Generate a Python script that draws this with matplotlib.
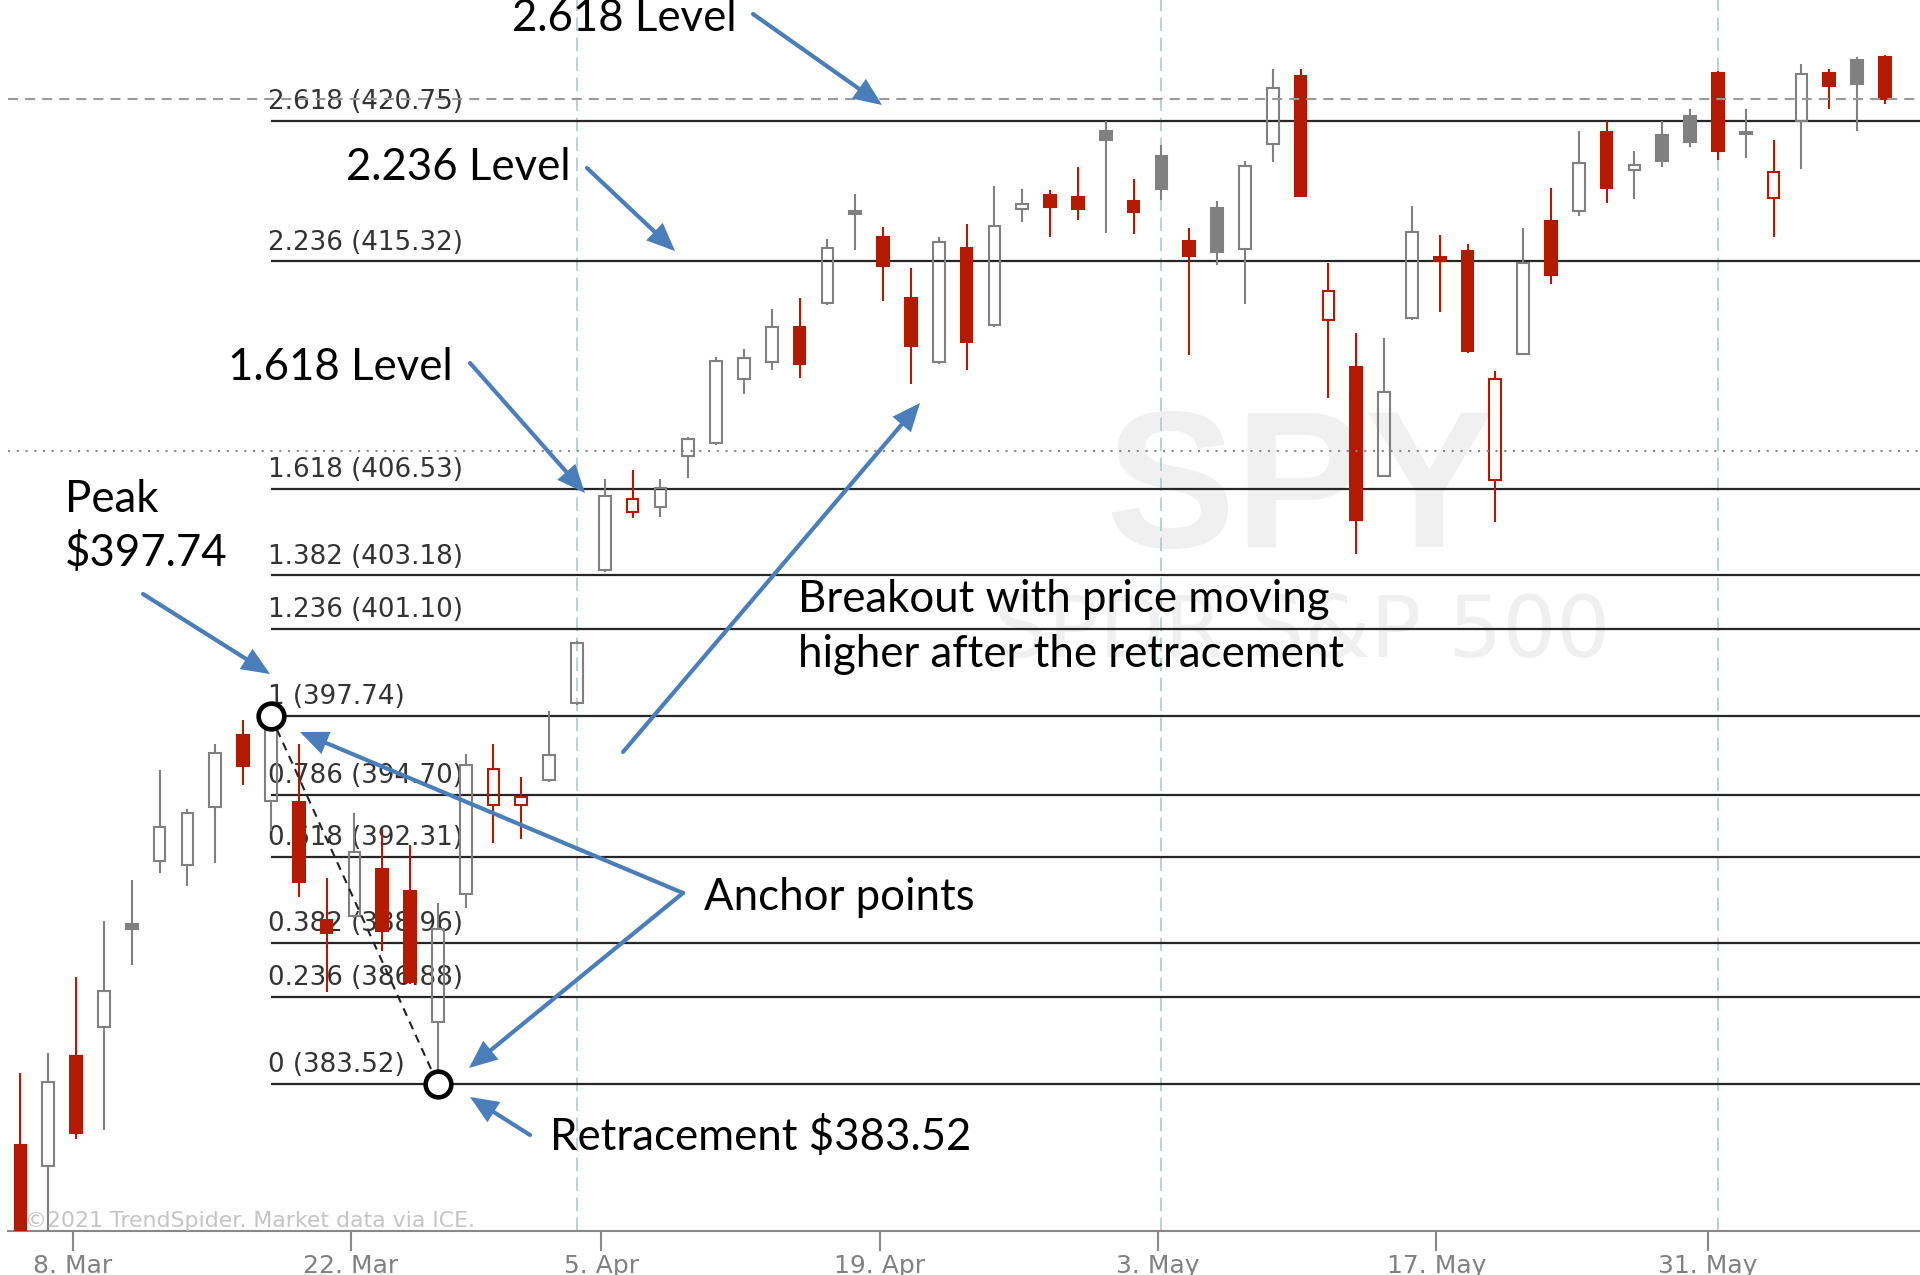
import numpy as np
import pandas as pd
import matplotlib
matplotlib.use('Agg')
import matplotlib.pyplot as plt
from matplotlib.patches import FancyArrowPatch

# SPY daily candles, 4 Mar - 9 Jun 2021
dates = pd.bdate_range('2021-03-04', '2021-06-09')
dates = dates.drop(pd.to_datetime(['2021-04-02', '2021-05-31']))  # market holidays

opens = [381.16, 380.35, 384.61, 385.74, 389.70, 392.16, 391.98, 394.21, 397.03, 394.47,
         394.44, 389.85, 390.01, 391.85, 390.98, 385.90, 390.87, 394.32, 394.32, 395.26,
         398.26, 403.39, 405.64, 405.81, 407.81, 408.29, 410.76, 411.44, 412.80, 413.70,
         417.25, 416.26, 413.92, 411.44, 415.82, 412.84, 417.34, 417.88, 417.81, 420.34,
         417.67, 419.38, 416.11, 417.37, 415.80, 419.87, 422.50, 413.04, 411.23, 407.04,
         413.11, 415.49, 415.72, 406.85, 411.73, 416.86, 417.25, 420.33, 418.83, 420.19,
         420.93, 422.58, 420.26, 417.77, 420.73, 422.58, 423.10, 423.20]
highs = [383.94, 384.72, 387.66, 389.82, 391.39, 395.64, 394.17, 396.67, 397.60, 397.74,
         396.67, 391.48, 393.98, 393.36, 392.75, 390.52, 396.29, 396.67, 395.37, 397.95,
         400.66, 406.89, 407.25, 406.89, 408.54, 411.64, 411.92, 413.47, 413.92, 416.17,
         417.92, 416.63, 415.05, 416.25, 416.77, 418.25, 418.13, 418.09, 418.96, 420.73,
         418.52, 419.82, 416.61, 417.64, 419.19, 422.74, 422.74, 415.25, 412.53, 412.36,
         417.45, 416.35, 416.00, 411.07, 416.61, 418.17, 420.34, 420.73, 419.57, 420.73,
         421.19, 422.66, 421.19, 420.00, 422.93, 422.74, 423.23, 423.31]
lows = [371.90, 372.64, 381.38, 381.74, 388.12, 391.67, 391.17, 392.05, 395.06, 393.29,
        390.75, 387.08, 389.95, 388.66, 387.40, 383.52, 390.31, 392.82, 392.98, 395.20,
        398.17, 403.30, 405.39, 405.45, 406.93, 408.22, 410.21, 411.10, 410.81, 413.65,
        415.76, 413.77, 410.59, 411.35, 411.10, 412.80, 416.83, 416.27, 416.90, 416.43,
        416.36, 417.69, 411.70, 415.17, 413.67, 419.14, 417.80, 410.04, 404.00, 407.00,
        413.05, 413.35, 411.78, 405.26, 411.70, 414.45, 417.06, 417.56, 417.72, 418.96,
        419.74, 419.24, 419.30, 416.27, 418.88, 421.19, 420.34, 421.40]
closes = [376.70, 383.58, 381.63, 387.12, 389.50, 393.44, 393.98, 396.32, 395.83, 397.21,
          391.33, 389.36, 392.47, 389.43, 387.48, 389.51, 395.86, 395.70, 394.63, 396.22,
          400.55, 406.26, 406.12, 406.55, 408.44, 411.48, 411.57, 412.77, 411.34, 415.82,
          417.15, 415.15, 412.03, 416.06, 412.19, 416.67, 417.54, 417.41, 417.33, 420.01,
          417.23, 418.12, 415.52, 415.67, 419.00, 422.03, 417.85, 414.17, 405.32, 410.25,
          416.47, 415.33, 411.85, 410.78, 415.25, 414.81, 419.11, 418.17, 419.04, 419.19,
          419.93, 419.60, 420.33, 418.76, 422.55, 422.08, 422.16, 421.59]

# fibonacci extension drawn from the 17 Mar peak to the 25 Mar low
peak_i, trough_i = 9, 15
fib_ratios = ['2.618', '2.236', '1.618', '1.382', '1.236', '1', '0.786', '0.618', '0.382', '0.236', '0']
fib_prices = [420.75, 415.32, 406.53, 403.18, 401.10, 397.74, 394.70, 392.31, 388.96, 386.88, 383.52]
dotted_level = 408.0

tick_dates = ['2021-03-08', '2021-03-22', '2021-04-05', '2021-04-19', '2021-05-03', '2021-05-17', '2021-05-31']
tick_labels = ['8. Mar', '22. Mar', '5. Apr', '19. Apr', '3. May', '17. May', '31. May']

RED = '#b31b00'
GRAY = '#808080'
BLUE = '#4a7ebb'

W, H = 1920, 1275
fig = plt.figure(figsize=(W / 100, H / 100), dpi=100)
ax = fig.add_axes([8 / W, 44 / H, 1912 / W, 1231 / H])

x = np.arange(len(dates))
o, h, l, c = map(np.array, (opens, highs, lows, closes))
prev = np.r_[o[0], c[:-1]]
col = np.where(c >= prev, GRAY, RED)           # colour vs previous close
face = np.where(c >= o, 'none', col)           # hollow when close > open
top, bot = np.maximum(o, c), np.minimum(o, c)

xmin, xmax = -0.446, 68.26
ax.set_xlim(xmin, xmax)
ax.set_ylim(377.84, 425.42)

# month separators
month_start = x[1:][dates.month[1:] != dates.month[:-1]]
for m in month_start:
    ax.axvline(m, color='#a9cccc', lw=1.2, ls=(0, (8, 4)), zorder=1)

# watermark
ax.text(0.676, 0.556, 'SPY', transform=ax.transAxes, ha='center', va='baseline',
        fontsize=140, fontweight='bold', family=['Liberation Sans', 'DejaVu Sans'],
        color='#f0f0f0', zorder=0)
ax.text(0.677, 0.466, 'SPDR S&P 500', transform=ax.transAxes, ha='center', va='baseline',
        fontsize=61, color='#f0f0f0', zorder=0)

# fib levels
ax.hlines(fib_prices, peak_i, xmax, colors='#262626', lw=1.6, zorder=2)
for r, p in zip(fib_ratios, fib_prices):
    ax.annotate(f'{r} ({p:.2f})', (peak_i, p), xytext=(-2, 8.5), textcoords='offset points',
                fontsize=18.8, color='#333333', ha='left', va='baseline', zorder=2.5)

# candles: wicks stop at the body, hollow bodies are see-through
ax.vlines(x, top, h, colors=col, lw=1.5, zorder=3)
ax.vlines(x, l, bot, colors=col, lw=1.5, zorder=3)
ax.bar(x, np.maximum(top - bot, 0.04), bottom=bot, width=0.42,
       color=face, edgecolor=col, linewidth=1.5, zorder=4)

# last price and dotted level
ax.axhline(closes[-1], color='#999999', lw=1.5, ls=(0, (4.8, 3.4)), zorder=4.5)
ax.axhline(dotted_level, color='#888888', lw=1.5, ls=(0, (1, 3.2)), zorder=4.5)

# anchor points
ax.plot([peak_i, trough_i], [highs[peak_i], lows[trough_i]], color='#222222', lw=1.5,
        ls=(0, (4, 3)), zorder=5)
ax.plot([peak_i, trough_i], [highs[peak_i], lows[trough_i]], ls='none', marker='o', ms=18.5,
        mfc='white', mec='black', mew=3.3, zorder=6)

# axes styling
for s in ('left', 'right', 'top'):
    ax.spines[s].set_visible(False)
ax.spines['bottom'].set_color('#888888')
ax.spines['bottom'].set_linewidth(1.5)
ax.set_yticks([])
d_ord = dates.map(pd.Timestamp.toordinal).to_numpy()
t_ord = [pd.Timestamp(t).toordinal() for t in tick_dates]
ax.set_xticks(np.interp(t_ord, d_ord, x) - 0.12)
ax.set_xticklabels(tick_labels)
ax.tick_params(axis='x', length=14.5, width=1.5, color='#888888', labelcolor='#808080',
               labelsize=18, pad=2)
ax.patch.set_alpha(0)

# annotation layer in pixel coordinates
ov = fig.add_axes([0, 0, 1, 1], zorder=5)
ov.set_xlim(0, W)
ov.set_ylim(H, 0)
ov.axis('off')
ov.patch.set_alpha(0)

ov.text(25, 1227, '\u00a92021 TrendSpider. Market data via ICE.', fontsize=15.8,
        color='#c4c4c4', va='baseline', ha='left')

note = dict(fontsize=31.5, color='black', va='baseline', ha='left', family=['Lato', 'DejaVu Sans'])
ov.text(512, 31, '2.618 Level', **note)
ov.text(346, 180, '2.236 Level', **note)
ov.text(228, 380, '1.618 Level', **note)
ov.text(65, 512, 'Peak', **note)
ov.text(65, 566, '$397.74', **note)
ov.text(798, 612, 'Breakout with price moving', **note)
ov.text(798, 667, 'higher after the retracement', **note)
ov.text(704, 910, 'Anchor points', **note)
ov.text(550, 1150, 'Retracement $383.52', **note)

arrows = [((753, 14), (882, 105)),
          ((587, 168), (675, 251)),
          ((470, 363), (585, 493)),
          ((623, 752), (920, 403)),
          ((143, 594), (270, 674)),
          ((683, 893), (300, 732)),
          ((683, 893), (469, 1068)),
          ((530, 1135), (470, 1097))]
for tail, head in arrows:
    ov.add_patch(FancyArrowPatch(tail, head, arrowstyle='-|>,head_length=0.75,head_width=0.32',
                                 mutation_scale=20, lw=3, color=BLUE, shrinkA=0, shrinkB=0,
                                 joinstyle='miter'))

fig.savefig('out.png', dpi=100)
